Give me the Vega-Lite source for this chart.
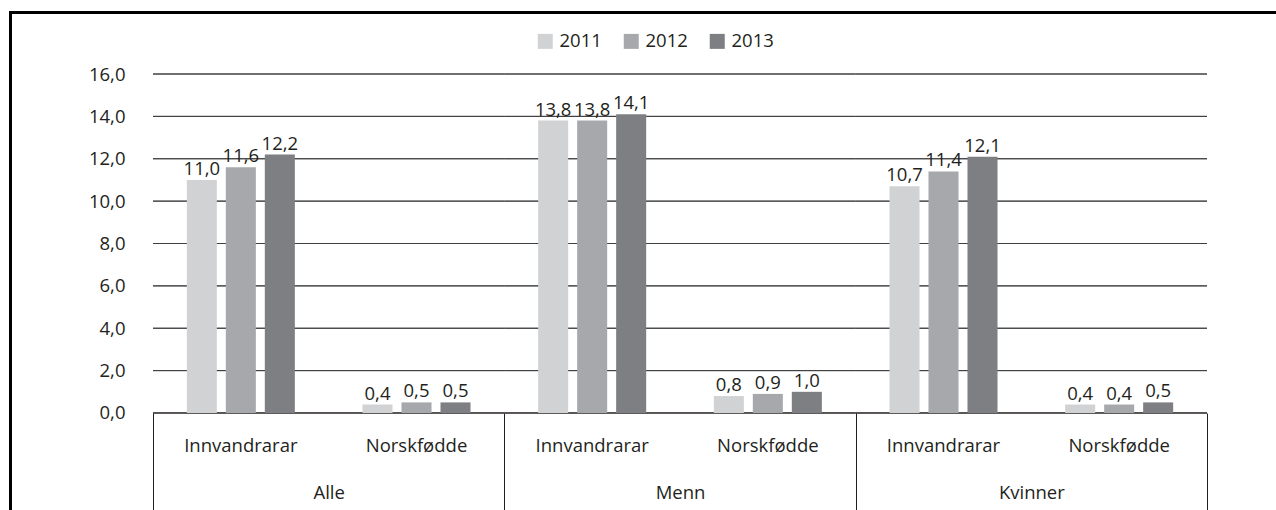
{
  "$schema": "https://vega.github.io/schema/vega-lite/v6.json",
  "autosize": {"type": "none"},
  "padding": {"left": 10, "top": 12, "right": -4, "bottom": -4},
  "width": 1270,
  "height": 502,
  "datasets": {
    "bars": [
      {"group": "Alle", "sub": "Innvandrarar", "cat": "Alle|Innvandrarar", "year": "2011", "value": 11.0},
      {"group": "Alle", "sub": "Innvandrarar", "cat": "Alle|Innvandrarar", "year": "2012", "value": 11.6},
      {"group": "Alle", "sub": "Innvandrarar", "cat": "Alle|Innvandrarar", "year": "2013", "value": 12.2},
      {"group": "Alle", "sub": "Norskfødde", "cat": "Alle|Norskfødde", "year": "2011", "value": 0.4},
      {"group": "Alle", "sub": "Norskfødde", "cat": "Alle|Norskfødde", "year": "2012", "value": 0.5},
      {"group": "Alle", "sub": "Norskfødde", "cat": "Alle|Norskfødde", "year": "2013", "value": 0.5},
      {"group": "Menn", "sub": "Innvandrarar", "cat": "Menn|Innvandrarar", "year": "2011", "value": 13.8},
      {"group": "Menn", "sub": "Innvandrarar", "cat": "Menn|Innvandrarar", "year": "2012", "value": 13.8},
      {"group": "Menn", "sub": "Innvandrarar", "cat": "Menn|Innvandrarar", "year": "2013", "value": 14.1},
      {"group": "Menn", "sub": "Norskfødde", "cat": "Menn|Norskfødde", "year": "2011", "value": 0.8},
      {"group": "Menn", "sub": "Norskfødde", "cat": "Menn|Norskfødde", "year": "2012", "value": 0.9},
      {"group": "Menn", "sub": "Norskfødde", "cat": "Menn|Norskfødde", "year": "2013", "value": 1.0},
      {"group": "Kvinner", "sub": "Innvandrarar", "cat": "Kvinner|Innvandrarar", "year": "2011", "value": 10.7},
      {"group": "Kvinner", "sub": "Innvandrarar", "cat": "Kvinner|Innvandrarar", "year": "2012", "value": 11.4},
      {"group": "Kvinner", "sub": "Innvandrarar", "cat": "Kvinner|Innvandrarar", "year": "2013", "value": 12.1},
      {"group": "Kvinner", "sub": "Norskfødde", "cat": "Kvinner|Norskfødde", "year": "2011", "value": 0.4},
      {"group": "Kvinner", "sub": "Norskfødde", "cat": "Kvinner|Norskfødde", "year": "2012", "value": 0.4},
      {"group": "Kvinner", "sub": "Norskfødde", "cat": "Kvinner|Norskfødde", "year": "2013", "value": 0.5}
    ],
    "grid": [
      {"group": "Alle", "v": 0}, {"group": "Menn", "v": 0}, {"group": "Kvinner", "v": 0},
      {"group": "Alle", "v": 2}, {"group": "Menn", "v": 2}, {"group": "Kvinner", "v": 2},
      {"group": "Alle", "v": 4}, {"group": "Menn", "v": 4}, {"group": "Kvinner", "v": 4},
      {"group": "Alle", "v": 6}, {"group": "Menn", "v": 6}, {"group": "Kvinner", "v": 6},
      {"group": "Alle", "v": 8}, {"group": "Menn", "v": 8}, {"group": "Kvinner", "v": 8},
      {"group": "Alle", "v": 10}, {"group": "Menn", "v": 10}, {"group": "Kvinner", "v": 10},
      {"group": "Alle", "v": 12}, {"group": "Menn", "v": 12}, {"group": "Kvinner", "v": 12},
      {"group": "Alle", "v": 14}, {"group": "Menn", "v": 14}, {"group": "Kvinner", "v": 14},
      {"group": "Alle", "v": 16}, {"group": "Menn", "v": 16}, {"group": "Kvinner", "v": 16}
    ]
  },
  "config": {
    "locale": {"number": {"decimal": ",", "thousands": " ", "grouping": [3], "currency": ["", " kr"]}},
    "view": {"stroke": null},
    "font": "Open Sans",
    "axis": {"labelFont": "Open Sans", "labelFontSize": 18.5, "labelColor": "#231f20"},
    "legend": {"labelFont": "Open Sans", "labelFontSize": 18.5, "labelColor": "#231f20"}
  },
  "resolve": {"scale": {"x": "independent", "y": "independent"}},
  "layer": [
    {
      "data": {"name": "grid"},
      "mark": {"type": "rect", "fillOpacity": 0, "strokeWidth": 1},
      "encoding": {
        "x": {
          "field": "group", "type": "nominal",
          "scale": {"domain": ["Alle", "Menn", "Kvinner"], "paddingInner": 0, "paddingOuter": 0.3074, "align": 0.66204},
          "axis": {"orient": "bottom", "offset": -101, "title": null, "domain": false, "ticks": true, "tickBand": "extent", "tickSize": 110, "tickColor": "#231f20", "tickWidth": 1, "labelPadding": -40, "labelAngle": 0}
        },
        "y": {
          "field": "v", "type": "quantitative",
          "scale": {"domain": [-4.767, 18.9263], "nice": false, "zero": false},
          "axis": {"orient": "left", "values": [0, 2, 4, 6, 8, 10, 12, 14, 16], "format": ".1f", "title": null, "domain": false, "ticks": false, "grid": false, "labelPadding": 0, "offset": -115}
        },
        "y2": {"field": "v"},
        "stroke": {"condition": {"test": "datum.v === 0", "value": "#231f20"}, "value": "#404040"}
      }
    },
    {
      "data": {"name": "grid"},
      "mark": {"type": "point", "opacity": 0},
      "encoding": {
        "x": {
          "field": "group", "type": "nominal",
          "scale": {"domain": ["Alle", "Menn", "Kvinner"], "paddingInner": 0, "paddingOuter": 0.3074, "align": 0.66204},
          "axis": {"orient": "top", "offset": 0, "title": null, "domain": true, "domainColor": "#000000", "domainWidth": 3, "domainCap": "square", "ticks": false, "labels": false}
        },
        "y": {
          "field": "v", "type": "quantitative",
          "scale": {"domain": [-4.767, 18.9263], "nice": false, "zero": false},
          "axis": {"orient": "left", "offset": 0, "title": null, "domain": true, "domainColor": "#000000", "domainWidth": 3, "domainCap": "square", "ticks": false, "labels": false, "grid": false}
        }
      }
    },
    {
      "data": {"name": "bars"},
      "encoding": {
        "x": {
          "field": "cat", "type": "nominal",
          "scale": {"domain": ["Alle|Innvandrarar", "Alle|Norskfødde", "Menn|Innvandrarar", "Menn|Norskfødde", "Kvinner|Innvandrarar", "Kvinner|Norskfødde"], "paddingInner": 0, "paddingOuter": 0.6148, "align": 0.66204},
          "axis": {"orient": "bottom", "offset": -101, "title": null, "domain": false, "ticks": false, "labelPadding": 23, "labelAngle": 0, "labelExpr": "split(datum.label, '|')[1]"}
        },
        "xOffset": {"field": "year", "type": "nominal", "scale": {"paddingInner": 0.23, "paddingOuter": 0.8672}},
        "y": {"field": "value", "type": "quantitative", "scale": {"domain": [-4.767, 18.9263], "nice": false, "zero": false}, "axis": null}
      },
      "layer": [
        {
          "mark": {"type": "bar"},
          "encoding": {
            "y2": {"datum": 0},
            "color": {
              "field": "year", "type": "nominal",
              "scale": {"domain": ["2011", "2012", "2013"], "range": ["#d1d2d4", "#a7a8ab", "#7e7f83"]},
              "legend": {"orient": "none", "legendX": 526, "legendY": 20, "direction": "horizontal", "title": null, "symbolType": "square", "symbolSize": 225, "symbolStrokeWidth": 0, "columnPadding": 20, "labelOffset": 5, "padding": 0}
            }
          }
        },
        {
          "mark": {"type": "text", "baseline": "alphabetic", "dy": -5, "fontSize": 18.5, "font": "Open Sans", "color": "#231f20"},
          "encoding": {"text": {"field": "value", "type": "quantitative", "format": ".1f"}}
        }
      ]
    }
  ]
}
